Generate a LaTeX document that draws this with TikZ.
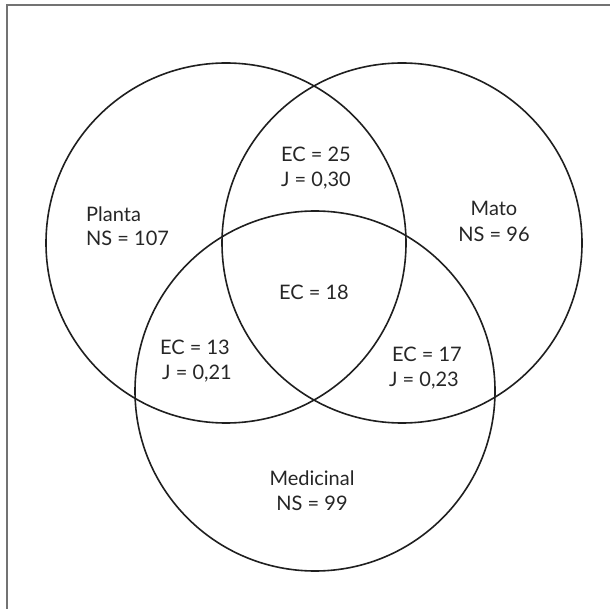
\documentclass[tikz,border=0pt]{standalone}
\usepackage{fontspec}
\setmainfont{Lato}
\begin{document}
\begin{tikzpicture}[x=1pt,y=-1pt,
  setc/.style={circle, draw=black!88, line width=1.6pt, inner sep=0pt, minimum size=360pt},
  lbl/.style={inner sep=0pt, text=black!85, font=\fontsize{20}{25}\selectfont}]
\useasboundingbox (0,0) rectangle (610,609);
% frame (only top and left edges are visible)
\draw[black!55, line width=1.3pt] (7,700) -- (7,5) -- (700,5);
% circles
\node[setc] (planta) at (226,243) {};
\node[setc] (mato) at (402,243) {};
\node[setc] (medicinal) at (315,391) {};
% labels
\node[lbl, anchor=base west] (pl1) at (86,222) {Planta};
\node[lbl, anchor=base west] (pl2) at (86,246) {NS = 107};
\node[lbl, anchor=base] (ma1) at (494,216) {Mato};
\node[lbl, anchor=base] (ma2) at (494,242) {NS = 96};
\node[lbl, anchor=base] (pm1) at (316,162) {EC = 25};
\node[lbl, anchor=base] (pm2) at (316,187) {J = 0,30};
\node[lbl, anchor=base] (all) at (314,300) {EC = 18};
\node[lbl, anchor=base west] (pd1) at (160,354) {EC = 13};
\node[lbl, anchor=base west] (pd2) at (162,379) {J = 0,21};
\node[lbl, anchor=base east] (md1) at (462,361) {EC = 17};
\node[lbl, anchor=base east] (md2) at (459,386) {J = 0,23};
\node[lbl, anchor=base] (me1) at (312,485) {Medicinal};
\node[lbl, anchor=base] (me2) at (312,510) {NS = 99};
\end{tikzpicture}
\end{document}
